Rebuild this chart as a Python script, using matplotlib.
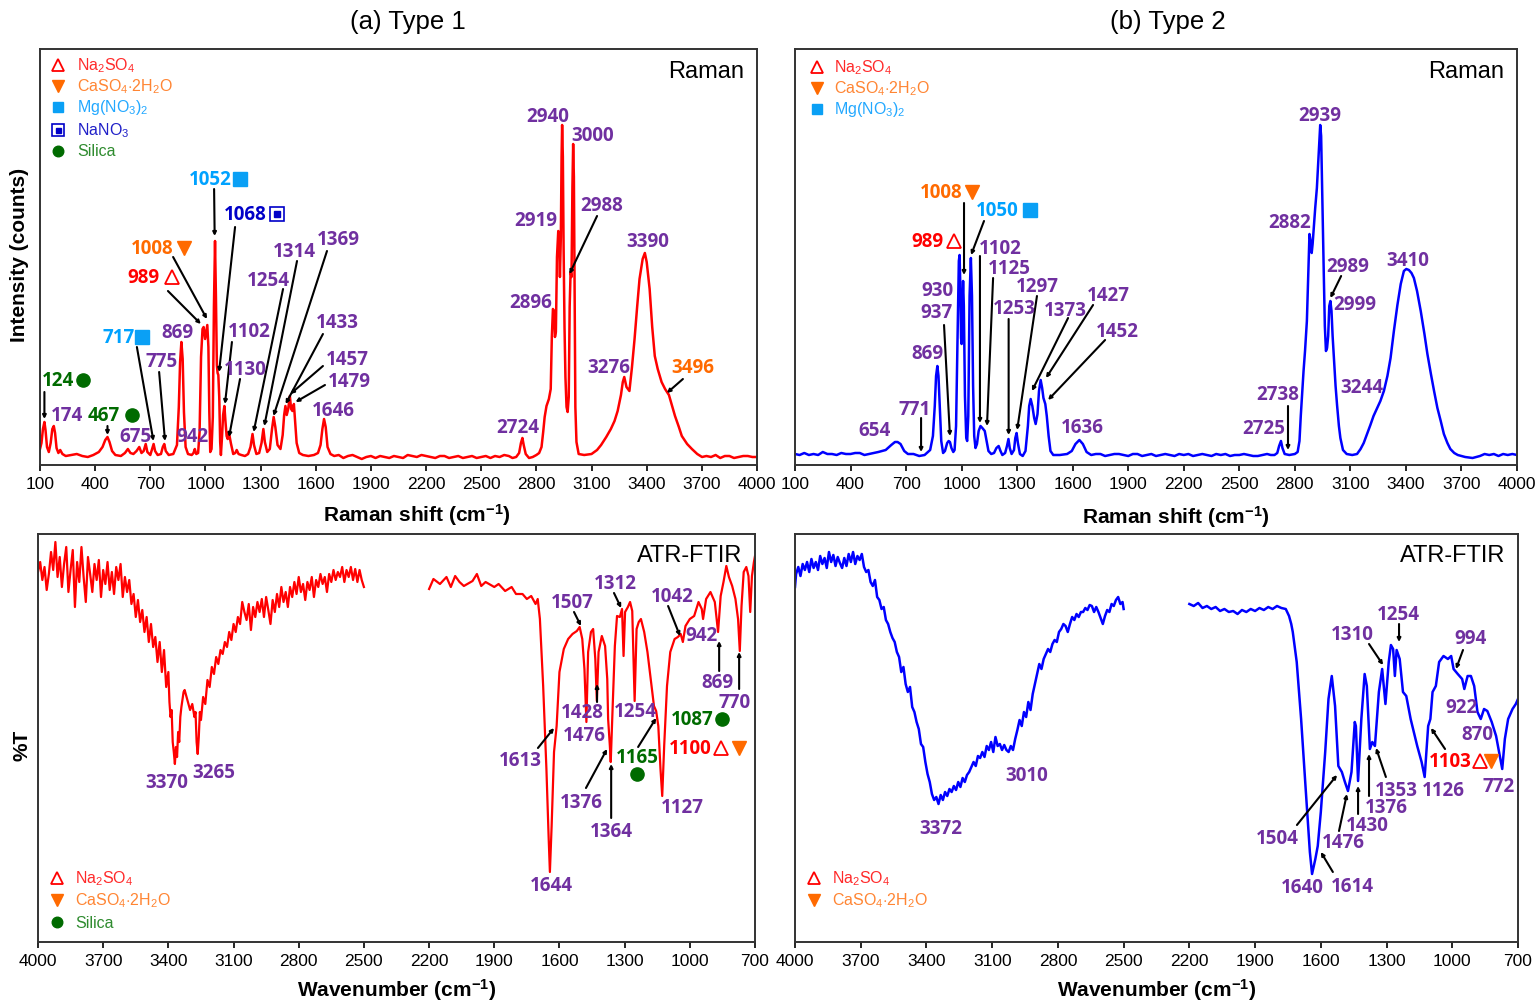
# Raman and ATR-FTIR spectra, type 1 and type 2
import matplotlib.pyplot as plt

plt.rcParams['font.family'] = ['Liberation Sans', 'DejaVu Sans']
plt.rcParams['mathtext.fontset'] = 'custom'
plt.rcParams['mathtext.rm'] = 'Liberation Sans'
plt.rcParams['mathtext.it'] = 'Liberation Sans:italic'
plt.rcParams['mathtext.bf'] = 'Liberation Sans:bold'

RED = '#FF0000'
ORANGE = '#FF6A00'
LBLUE = '#00A2FF'
DBLUE = '#0000C8'
GREEN = '#006B00'
PURPLE = '#7030A0'
BLUE = '#0000FF'

# ---------------- data ----------------
# Raman type 1: (shift cm-1, intensity a.u.)
raman1 = [
    (100, 8), (108, 14), (116, 28), (124, 35), (130, 27), (138, 10), (148, 5), (158, 14),
    (167, 28), (175, 31), (182, 24), (190, 9), (200, 4), (210, 7), (222, 3), (240, 1),
    (270, 2), (300, 3), (330, 1), (360, 0), (390, 2), (420, 5), (440, 10), (455, 17),
    (467, 20), (478, 15), (492, 6), (510, 2), (540, 1), (562, 4), (578, 8), (592, 4),
    (608, 3), (625, 6), (640, 10), (652, 4), (664, 6), (675, 13), (684, 5), (700, 2),
    (710, 8), (718, 13), (726, 6), (740, 2), (758, 3), (768, 10), (776, 13), (784, 6),
    (800, 2), (825, 3), (845, 12), (855, 50), (862, 95), (869, 115), (876, 98), (883, 45),
    (892, 10), (905, 3), (925, 2), (935, 4), (942, 8), (950, 3), (960, 4), (968, 25),
    (976, 100), (984, 128), (990, 130), (998, 118), (1004, 125), (1010, 132), (1016, 110),
    (1021, 45), (1026, 5), (1033, 8), (1040, 40), (1046, 150), (1052, 216), (1057, 160),
    (1062, 92), (1066, 84), (1070, 82), (1075, 60), (1080, 15), (1084, 2), (1090, 20),
    (1096, 42), (1103, 51), (1109, 35), (1115, 21), (1121, 18), (1127, 25), (1132, 20),
    (1138, 14), (1151, 3), (1162, 4), (1170, 7), (1180, 3), (1195, 2), (1215, 1), (1232, 3),
    (1245, 10), (1256, 23), (1264, 12), (1277, 3), (1292, 4), (1305, 14), (1315, 28),
    (1323, 15), (1336, 5), (1350, 8), (1362, 28), (1371, 40), (1380, 30), (1392, 12),
    (1408, 8), (1420, 22), (1428, 42), (1435, 51), (1442, 42), (1450, 48), (1459, 61),
    (1466, 48), (1473, 46), (1481, 53), (1488, 35), (1496, 14), (1510, 4), (1530, 2),
    (1560, 1), (1590, 2), (1612, 4), (1626, 12), (1636, 28), (1645, 38), (1654, 30),
    (1664, 10), (1680, 3), (1700, 1), (1725, 2), (1750, -1), (1775, 1), (1800, 2),
    (1825, 0), (1850, -2), (1875, 0), (1900, 1), (1925, -1), (1950, 1), (1975, 0),
    (2000, -1), (2025, 1), (2050, 0), (2075, -1), (2100, 2), (2125, 1), (2150, 0),
    (2175, 2), (2200, 1), (2225, 0), (2250, -1), (2275, 1), (2300, 1), (2325, -1),
    (2350, 0), (2375, 1), (2400, -1), (2425, 0), (2450, 1), (2475, -1), (2500, 0),
    (2525, 1), (2550, -1), (2575, 1), (2600, 0), (2625, 2), (2650, 1), (2670, -1),
    (2690, 0), (2706, 4), (2716, 14), (2724, 19), (2731, 12), (2742, 3),
    (2760, -1), (2780, 0), (2800, 2), (2815, 4), (2828, 10), (2837, 25), (2845, 40),
    (2855, 51), (2868, 58), (2878, 68), (2884, 120), (2890, 148), (2896, 146), (2901, 120),
    (2906, 125), (2912, 200), (2919, 226), (2924, 215), (2928, 180), (2933, 220), (2937, 300),
    (2940, 332), (2944, 300), (2948, 210), (2953, 130), (2958, 80), (2964, 50), (2970, 45),
    (2976, 60), (2981, 150), (2986, 185), (2991, 180), (2996, 270), (3000, 313), (3004, 280),
    (3008, 170), (3012, 50), (3018, 15), (3030, 3), (3060, 2), (3100, 3), (3130, 7),
    (3152, 12), (3180, 20), (3205, 28), (3225, 36), (3242, 46), (3260, 62), (3270, 75),
    (3278, 80), (3290, 70), (3306, 66), (3320, 90), (3334, 118), (3348, 150), (3361, 178),
    (3378, 198), (3390, 204), (3400, 195), (3416, 168), (3430, 130), (3444, 101), (3460, 88),
    (3481, 75), (3500, 68), (3521, 62), (3540, 50), (3554, 41), (3575, 30), (3591, 21),
    (3620, 13), (3646, 8), (3675, 3), (3701, 0), (3725, 1), (3750, 0), (3775, 2),
    (3800, -1), (3825, 1), (3850, 1), (3875, -1), (3900, 0), (3925, 1), (3950, 1),
    (3975, 0), (4000, 0),
]

# Raman type 2
raman2 = [
    (100, 2), (125, 1), (150, 3), (175, 1), (200, 2), (225, 1), (250, 4), (275, 2),
    (300, 2), (325, 1), (350, 3), (375, 2), (400, 2), (425, 3), (450, 3), (475, 1),
    (500, 2), (525, 3), (550, 4), (590, 6), (620, 11), (640, 14), (654, 14), (670, 12), (690, 5),
    (710, 2), (740, 2), (771, 0), (800, 1), (830, 6), (845, 20), (855, 50), (862, 80),
    (869, 90), (875, 80), (882, 50), (890, 15), (900, 3), (910, 5), (922, 13), (930, 15),
    (937, 14), (945, 8), (955, 4), (962, 6), (970, 30), (978, 120), (985, 195), (989, 201),
    (993, 170), (997, 118), (1000, 112), (1004, 150), (1008, 175), (1012, 150), (1018, 60),
    (1025, 18), (1030, 15), (1036, 40), (1043, 160), (1050, 198), (1056, 160), (1062, 70),
    (1068, 20), (1075, 8), (1083, 12), (1092, 25), (1102, 30), (1112, 28), (1125, 25),
    (1135, 15), (1145, 5), (1160, 2), (1175, 3), (1188, 8), (1200, 10), (1210, 5),
    (1220, 1), (1235, 3), (1245, 10), (1253, 17), (1260, 8), (1270, 2), (1283, 6),
    (1290, 18), (1297, 23), (1304, 13), (1315, 2), (1330, 0), (1345, 5), (1358, 30),
    (1365, 50), (1373, 57), (1382, 50), (1392, 38), (1400, 32), (1410, 42), (1418, 65),
    (1427, 76), (1435, 68), (1442, 58), (1452, 52), (1460, 40), (1470, 20), (1480, 5),
    (1495, 1), (1530, 1), (1570, 2), (1595, 5), (1615, 12), (1636, 16), (1655, 12),
    (1675, 4), (1700, 1), (1725, 2), (1750, 2), (1775, 0), (1800, 1), (1825, 2), (1850, 2),
    (1875, 1), (1900, 0), (1925, 2), (1950, 2), (1975, 0), (2000, 1), (2025, 2), (2050, 0),
    (2075, 1), (2100, 2), (2125, 1), (2150, 0), (2175, 2), (2200, 1), (2225, 2), (2250, 0),
    (2275, 1), (2300, 2), (2325, 1), (2350, 0), (2375, 2), (2400, 1), (2425, 2), (2450, 0),
    (2475, 1), (2500, 1), (2525, 2), (2550, 1), (2575, 0), (2600, 0), (2625, 1), (2650, 2),
    (2670, 1), (2690, 1), (2705, 3), (2715, 10),
    (2725, 15), (2733, 8), (2745, 2), (2770, 1), (2800, 2), (2815, 4), (2825, 15),
    (2832, 40), (2840, 65), (2847, 85), (2855, 105), (2865, 135), (2872, 180), (2879, 222),
    (2885, 215), (2891, 203), (2896, 212), (2901, 225), (2910, 248), (2919, 268), (2928, 300),
    (2937, 331), (2942, 320), (2948, 260), (2952, 225), (2956, 185), (2962, 130), (2968, 105),
    (2974, 108), (2980, 120), (2986, 150), (2992, 155), (2998, 145), (3004, 120), (3010, 101),
    (3020, 70), (3028, 51), (3038, 30), (3046, 18), (3060, 6), (3080, 2), (3110, 1),
    (3136, 2), (3155, 7), (3172, 13), (3190, 22), (3208, 31), (3225, 40), (3245, 48),
    (3262, 55), (3281, 65), (3300, 80), (3317, 98), (3335, 125), (3354, 151), (3372, 172),
    (3389, 185), (3402, 187), (3416, 186), (3430, 183), (3443, 178), (3460, 165), (3480, 145),
    (3500, 122), (3516, 102), (3535, 82), (3552, 65), (3570, 48), (3588, 35), (3605, 22),
    (3624, 13), (3640, 7), (3661, 3), (3680, 1), (3720, -1), (3760, -2), (3800, 0),
    (3825, 2), (3850, 1), (3875, 2), (3900, 0), (3925, 2), (3950, 1), (3975, 2), (4000, 1),
]

# ATR-FTIR type 1: (wavenumber cm-1, %T a.u.), two segments
ftir1_high = [
    (4000, 370), (3990, 380), (3980, 362), (3970, 375), (3960, 352), (3950, 368), (3940, 390),
    (3930, 372), (3920, 400), (3910, 365), (3900, 385), (3890, 355), (3880, 378), (3870, 395),
    (3860, 350), (3850, 372), (3840, 392), (3830, 335), (3820, 380), (3810, 360), (3800, 395),
    (3790, 365), (3780, 340), (3770, 385), (3760, 368), (3750, 350), (3740, 378), (3730, 362),
    (3720, 382), (3710, 345), (3700, 372), (3690, 358), (3680, 380), (3670, 352), (3660, 370),
    (3650, 348), (3640, 375), (3630, 362), (3620, 378), (3610, 345), (3600, 365), (3590, 350),
    (3580, 362), (3570, 338), (3560, 348), (3550, 325), (3540, 342), (3530, 320), (3520, 332),
    (3510, 310), (3500, 325), (3490, 300), (3480, 318), (3470, 295), (3460, 305), (3450, 280),
    (3440, 300), (3430, 270), (3420, 292), (3410, 255), (3400, 270), (3395, 240), (3390, 225),
    (3385, 232), (3380, 200), (3375, 190), (3370, 178), (3365, 195), (3360, 185), (3355, 210),
    (3350, 200), (3345, 225), (3340, 235), (3330, 250), (3325, 252), (3320, 248), (3310, 240),
    (3300, 232), (3290, 238), (3280, 225), (3275, 230), (3270, 200), (3265, 188), (3260, 205),
    (3255, 230), (3250, 222), (3240, 245), (3230, 238), (3220, 262), (3210, 255), (3200, 275),
    (3190, 268), (3180, 285), (3170, 278), (3160, 292), (3150, 288), (3140, 300), (3130, 295),
    (3120, 310), (3110, 302), (3100, 318), (3090, 310), (3080, 325), (3070, 318), (3060, 340),
    (3050, 330), (3040, 322), (3030, 338), (3020, 312), (3010, 335), (3000, 325), (2990, 340),
    (2980, 330), (2970, 343), (2960, 325), (2950, 345), (2940, 332), (2930, 318), (2920, 342),
    (2910, 330), (2900, 348), (2890, 335), (2880, 355), (2870, 340), (2860, 350), (2850, 335),
    (2840, 355), (2830, 345), (2820, 360), (2810, 348), (2800, 365), (2790, 350), (2780, 358),
    (2770, 342), (2760, 360), (2750, 352), (2740, 365), (2730, 345), (2720, 362), (2710, 355),
    (2700, 368), (2690, 358), (2680, 365), (2670, 350), (2660, 368), (2650, 360), (2640, 372),
    (2630, 362), (2620, 370), (2610, 365), (2600, 375), (2590, 360), (2580, 372), (2570, 365),
    (2560, 375), (2550, 362), (2540, 373), (2530, 360), (2520, 372), (2510, 362), (2500, 355),
]
ftir1_low = [
    (2200, 353), (2180, 363), (2150, 358), (2120, 365), (2100, 355), (2080, 366), (2060, 360),
    (2040, 356), (2000, 361), (1980, 368), (1960, 356), (1940, 360), (1900, 355), (1880, 358),
    (1850, 351), (1820, 355), (1800, 348), (1770, 348), (1750, 343), (1730, 346), (1710, 338),
    (1700, 343), (1690, 323), (1675, 256), (1660, 173), (1650, 106), (1644, 70), (1636, 116),
    (1625, 190), (1613, 216), (1600, 270), (1580, 293), (1560, 303), (1540, 308), (1520, 311),
    (1507, 315), (1495, 303), (1485, 273), (1476, 220), (1468, 290), (1455, 310), (1445, 313),
    (1435, 283), (1428, 241), (1420, 290), (1405, 306), (1390, 296), (1380, 263), (1376, 223),
    (1368, 196), (1364, 180), (1355, 236), (1345, 296), (1335, 326), (1322, 325), (1312, 333),
    (1305, 286), (1298, 330), (1285, 335), (1275, 340), (1265, 331), (1254, 241), (1245, 313),
    (1235, 320), (1225, 323), (1210, 310), (1195, 290), (1180, 263), (1165, 236), (1155, 231),
    (1145, 216), (1135, 173), (1127, 146), (1118, 196), (1105, 256), (1090, 290), (1070, 303),
    (1055, 305), (1042, 308), (1032, 300), (1020, 316), (1000, 323), (980, 326), (960, 340),
    (945, 333), (939, 323), (925, 343), (905, 350), (885, 340), (870, 310), (858, 346),
    (845, 360), (832, 376), (820, 365), (805, 356), (790, 343), (778, 323), (770, 291),
    (762, 336), (752, 370), (740, 375), (730, 366), (722, 330), (714, 366), (705, 380),
    (700, 386),
]

# ATR-FTIR type 2
ftir2_high = [
    (4000, 355), (3995, 368), (3985, 375), (3975, 366), (3965, 378), (3955, 372), (3945, 380),
    (3935, 370), (3925, 383), (3915, 374), (3905, 380), (3895, 372), (3885, 386), (3875, 378),
    (3865, 384), (3855, 374), (3845, 390), (3835, 380), (3825, 387), (3815, 376), (3805, 385),
    (3795, 379), (3785, 374), (3775, 384), (3765, 376), (3755, 388), (3745, 380), (3735, 390),
    (3725, 378), (3715, 386), (3705, 382), (3695, 388), (3685, 375), (3675, 370), (3665, 372),
    (3655, 360), (3645, 356), (3635, 362), (3625, 345), (3615, 342), (3605, 333), (3595, 335),
    (3585, 322), (3575, 318), (3565, 310), (3555, 304), (3545, 300), (3535, 290), (3525, 285),
    (3515, 270), (3505, 275), (3495, 258), (3485, 250), (3475, 255), (3465, 235), (3455, 230),
    (3445, 220), (3435, 213), (3425, 198), (3415, 195), (3405, 180), (3395, 168), (3385, 160),
    (3375, 148), (3365, 142), (3355, 145), (3345, 138), (3335, 147), (3325, 142), (3315, 150),
    (3305, 146), (3295, 153), (3285, 150), (3275, 156), (3265, 152), (3255, 160), (3245, 155),
    (3235, 164), (3225, 160), (3215, 167), (3205, 170), (3195, 175), (3185, 180), (3175, 176),
    (3165, 186), (3155, 184), (3145, 190), (3135, 185), (3125, 196), (3115, 192), (3105, 200),
    (3095, 190), (3085, 205), (3075, 196), (3065, 198), (3055, 192), (3045, 197), (3035, 192),
    (3025, 190), (3015, 196), (3005, 192), (2995, 203), (2985, 212), (2975, 222), (2965, 216),
    (2955, 230), (2945, 225), (2935, 240), (2925, 232), (2915, 248), (2905, 258), (2895, 268),
    (2885, 278), (2875, 273), (2865, 283), (2855, 288), (2845, 293), (2835, 290), (2825, 298),
    (2815, 302), (2805, 300), (2795, 310), (2785, 313), (2775, 318), (2765, 316), (2755, 310),
    (2745, 318), (2735, 325), (2725, 322), (2715, 328), (2705, 325), (2695, 330), (2685, 330),
    (2675, 334), (2665, 332), (2655, 337), (2645, 336), (2635, 330), (2625, 335), (2615, 330),
    (2605, 324), (2595, 318), (2585, 326), (2575, 332), (2565, 330), (2555, 338), (2545, 336),
    (2535, 342), (2525, 345), (2515, 338), (2505, 340), (2500, 333),
]
ftir2_low = [
    (2200, 338), (2180, 336), (2160, 339), (2140, 334), (2120, 336), (2100, 333), (2080, 335),
    (2060, 331), (2040, 333), (2020, 330), (2000, 331), (1980, 328), (1960, 332), (1940, 330),
    (1920, 333), (1900, 331), (1880, 334), (1860, 332), (1840, 335), (1820, 333), (1800, 336),
    (1780, 334), (1760, 333), (1745, 326), (1735, 318), (1728, 310), (1710, 280), (1690, 223),
    (1670, 156), (1650, 90), (1640, 68), (1625, 83), (1614, 96), (1600, 130), (1580, 190),
    (1565, 243), (1550, 266), (1535, 236), (1520, 176), (1504, 170), (1490, 160), (1476, 151),
    (1460, 170), (1445, 220), (1440, 216), (1430, 161), (1415, 223), (1400, 268), (1390, 256),
    (1376, 193), (1365, 200), (1353, 196), (1335, 250), (1320, 273), (1305, 238), (1290, 280),
    (1280, 297), (1270, 293), (1262, 266), (1254, 292), (1240, 283), (1225, 250), (1210, 246),
    (1190, 223), (1160, 196), (1140, 180), (1126, 165), (1110, 216), (1100, 223), (1090, 250),
    (1075, 256), (1060, 280), (1040, 286), (1020, 283), (1005, 286), (994, 273), (975, 268),
    (955, 263), (945, 253), (930, 266), (915, 266), (900, 256), (885, 230), (870, 223),
    (855, 233), (840, 231), (820, 220), (800, 206), (772, 173), (760, 203), (745, 223),
    (725, 233), (710, 238), (700, 243),
]

raman_ticks = list(range(100, 4001, 300))
ftir_ticks = list(range(4000, 699, -300))

# ---------------- peak labels ----------------
# (text, colour, text x, text y, pointer line or None)
raman1_labels = [
    ('124', GREEN, 198, 77, (124, 65, 124, 38)),
    ('174', PURPLE, 247, 42, None),
    ('467', GREEN, 448, 42, (467, 31, 467, 22)),
    ('675', PURPLE, 617, 21, None),
    ('942', PURPLE, 932, 21, None),
    ('717', LBLUE, 526, 120, (627, 110, 717, 16)),
    ('775', PURPLE, 763, 96, (748, 85, 780, 16)),
    ('869', PURPLE, 846, 125, None),
    ('989', RED, 662, 180, (796, 166, 975, 133)),
    ('1008', ORANGE, 709, 209, (824, 200, 1008, 138)),
    ('1052', LBLUE, 1025, 278, (1047, 268, 1050, 221)),
    ('1068', DBLUE, 1215, 243, (1161, 230, 1074, 85)),
    ('1102', PURPLE, 1237, 126, (1144, 115, 1106, 53)),
    ('1130', PURPLE, 1215, 88, (1188, 78, 1128, 20)),
    ('1254', PURPLE, 1340, 177, (1422, 168, 1262, 25)),
    ('1314', PURPLE, 1482, 206, (1498, 196, 1320, 31)),
    ('1369', PURPLE, 1721, 218, (1661, 206, 1370, 41)),
    ('1433', PURPLE, 1716, 135, (1639, 123, 1436, 53)),
    ('1457', PURPLE, 1770, 98, (1639, 91, 1462, 63)),
    ('1479', PURPLE, 1781, 76, (1650, 72, 1490, 55)),
    ('1646', PURPLE, 1694, 47, None),
    ('2940', PURPLE, 2863, 341, None),
    ('3000', PURPLE, 3108, 322, None),
    ('2919', PURPLE, 2798, 237, None),
    ('2988', PURPLE, 3157, 252, (3130, 241, 2980, 183)),
    ('2896', PURPLE, 2771, 155, None),
    ('3390', PURPLE, 3407, 216, None),
    ('3276', PURPLE, 3195, 90, None),
    ('3496', ORANGE, 3652, 90, (3597, 78, 3510, 64)),
    ('2724', PURPLE, 2700, 30, None),
]
raman1_marks = [('silica', 334, 77), ('silica', 600, 42), ('mg', 655, 120), ('na', 818, 180),
                ('ca', 883, 209), ('mg', 1188, 278), ('nano3', 1389, 243)]

raman2_labels = [
    ('1008', ORANGE, 889, 264, (1013, 253, 1013, 181)),
    ('1050', LBLUE, 1191, 246, (1121, 235, 1051, 201)),
    ('989', RED, 813, 215, None),
    ('1102', PURPLE, 1207, 208, (1099, 200, 1099, 33)),
    ('1125', PURPLE, 1256, 188, (1170, 178, 1137, 30)),
    ('930', PURPLE, 867, 166, None),
    ('937', PURPLE, 862, 144, (905, 131, 937, 20)),
    ('869', PURPLE, 813, 103, None),
    ('1297', PURPLE, 1407, 170, (1407, 160, 1300, 26)),
    ('1253', PURPLE, 1283, 148, (1254, 137, 1254, 21)),
    ('1373', PURPLE, 1559, 146, (1575, 138, 1380, 65)),
    ('1427', PURPLE, 1791, 161, (1710, 151, 1456, 78)),
    ('1452', PURPLE, 1840, 125, (1775, 116, 1467, 56)),
    ('654', PURPLE, 527, 26, None),
    ('771', PURPLE, 748, 47, (781, 38, 781, 4)),
    ('1636', PURPLE, 1650, 29, None),
    ('2939', PURPLE, 2936, 341, None),
    ('2882', PURPLE, 2774, 234, None),
    ('2989', PURPLE, 3087, 190, (3050, 180, 2992, 158)),
    ('2999', PURPLE, 3125, 152, None),
    ('3410', PURPLE, 3411, 196, None),
    ('3244', PURPLE, 3163, 69, None),
    ('2738', PURPLE, 2709, 62, (2763, 50, 2763, 6)),
    ('2725', PURPLE, 2634, 28, None),
]
raman2_marks = [('ca', 1056, 264), ('mg', 1369, 246), ('na', 959, 215)]

ftir1_labels = [
    ('3370', PURPLE, 3406, 160, None),
    ('3265', PURPLE, 3190, 170, None),
    ('1507', PURPLE, 1542, 340, (1533, 330, 1501, 316)),
    ('1312', PURPLE, 1344, 359, (1349, 349, 1316, 334)),
    ('1042', PURPLE, 1082, 346, (1100, 336, 1045, 306)),
    ('942', PURPLE, 944, 307, None),
    ('869', PURPLE, 875, 260, (865, 271, 865, 301)),
    ('770', PURPLE, 792, 240, (773, 253, 773, 290)),
    ('1428', PURPLE, 1496, 230, (1427, 240, 1427, 258)),
    ('1254', PURPLE, 1252, 231, None),
    ('1476', PURPLE, 1487, 207, None),
    ('1613', PURPLE, 1781, 182, (1699, 194, 1625, 214)),
    ('1087', GREEN, 990, 223, None),
    ('1165', GREEN, 1243, 185, (1238, 195, 1155, 224)),
    ('1100', RED, 999, 194, None),
    ('1376', PURPLE, 1501, 140, (1478, 154, 1381, 193)),
    ('1364', PURPLE, 1362, 111, (1362, 124, 1362, 178)),
    ('1127', PURPLE, 1036, 135, None),
    ('1644', PURPLE, 1639, 57, None),
]
ftir1_marks = [('silica', 852, 223), ('silica', 1243, 168), ('na', 856, 194), ('ca', 773, 194)]

ftir2_labels = [
    ('3372', PURPLE, 3334, 114, None),
    ('3010', PURPLE, 2941, 167, None),
    ('1254', PURPLE, 1248, 328, (1243, 318, 1243, 300)),
    ('1310', PURPLE, 1458, 308, (1380, 298, 1316, 277)),
    ('994', PURPLE, 919, 304, (951, 292, 983, 273)),
    ('922', PURPLE, 960, 235, None),
    ('870', PURPLE, 887, 208, None),
    ('1103', RED, 1011, 181, (1033, 193, 1097, 214)),
    ('772', PURPLE, 787, 156, None),
    ('1126', PURPLE, 1043, 152, None),
    ('1353', PURPLE, 1253, 152, (1303, 165, 1348, 194)),
    ('1376', PURPLE, 1303, 135, (1380, 146, 1380, 188)),
    ('1430', PURPLE, 1389, 117, (1430, 128, 1430, 156)),
    ('1476', PURPLE, 1499, 100, (1517, 111, 1481, 148)),
    ('1504', PURPLE, 1800, 104, (1709, 117, 1526, 167)),
    ('1640', PURPLE, 1686, 55, None),
    ('1614', PURPLE, 1458, 56, (1545, 70, 1600, 90)),
]
ftir2_marks = [('na', 874, 181), ('ca', 823, 181)]

LEGEND_ITEMS = {
    'na': (r'Na$_2$SO$_4$', '#FF2A2A'),
    'ca': (r'CaSO$_4$$\cdot$2H$_2$O', '#FF8533'),
    'mg': (r'Mg(NO$_3$)$_2$', '#22A8FF'),
    'nano3': (r'NaNO$_3$', '#2020C8'),
    'silica': ('Silica', '#2E8B2E'),
}


def draw_marker(ax, kind, x, y, size=10, transform=None):
    tr = transform if transform is not None else ax.transData
    kw = dict(transform=tr, clip_on=False, zorder=6, linestyle='none')
    if kind == 'na':
        ax.plot(x, y, marker='^', ms=size, mfc='white', mec=RED, mew=1.3, **kw)
    elif kind == 'ca':
        ax.plot(x, y, marker='v', ms=size, color=ORANGE, mec=ORANGE, **kw)
    elif kind == 'mg':
        ax.plot(x, y, marker='s', ms=size * 0.95, color='#0AA0F5', mec='#0AA0F5', **kw)
    elif kind == 'nano3':
        ax.plot(x, y, marker='s', ms=size, mfc='white', mec=DBLUE, mew=1.2, **kw)
        ax.plot(x, y, marker='s', ms=size * 0.45, color=DBLUE, **kw)
    elif kind == 'silica':
        ax.plot(x, y, marker='o', ms=size * 0.95, color=GREEN, mec=GREEN, **kw)


def add_labels(ax, labels, marks):
    for text, color, tx, ty, line in labels:
        ax.text(tx, ty, text, color=color, fontsize=13.5, fontweight='bold',
                family=['Open Sans', 'DejaVu Sans'], ha='center', va='center', zorder=5)
        if line is not None:
            ax.annotate('', xy=(line[2], line[3]), xytext=(line[0], line[1]),
                        arrowprops=dict(arrowstyle='-|>', color='black', lw=1.5,
                                        mutation_scale=5, shrinkA=0, shrinkB=0), zorder=4)
    for kind, x, y in marks:
        draw_marker(ax, kind, x, y)


def add_legend(ax, kinds, xm, xt, ys):
    for kind, y in zip(kinds, ys):
        draw_marker(ax, kind, xm, y, size=8, transform=ax.transAxes)
        text, color = LEGEND_ITEMS[kind]
        ax.text(xt, y, text, color=color, fontsize=11.5, transform=ax.transAxes,
                ha='left', va='center')


def style(ax, ticks, xlim, ylim, tag):
    ax.set_xlim(*xlim)
    ax.set_ylim(*ylim)
    ax.set_xticks(ticks)
    ax.set_yticks([])
    ax.tick_params(axis='x', direction='out', length=4, width=1.2, labelsize=12.5, pad=4)
    for s in ax.spines.values():
        s.set_linewidth(1.4)
        s.set_color('#333333')
    ax.text(0.982, 0.948, tag, transform=ax.transAxes, ha='right', va='center', fontsize=17)


W, H = 1537, 1003
fig = plt.figure(figsize=(W / 100, H / 100), dpi=100)


def axes_px(left, top, right, bottom):
    return fig.add_axes([left / W, 1 - bottom / H, (right - left) / W, (bottom - top) / H])


ax1 = axes_px(40, 50, 757, 466)
ax2 = axes_px(795, 50, 1517, 466)
ax3 = axes_px(38, 535, 755, 943)
ax4 = axes_px(795, 535, 1518, 943)

x, y = zip(*raman1)
ax1.plot(x, y, color=RED, lw=1.8)
x, y = zip(*raman2)
ax2.plot(x, y, color=BLUE, lw=1.8)
for seg in (ftir1_high, ftir1_low):
    x, y = zip(*seg)
    ax3.plot(x, y, color=RED, lw=1.6)
for seg in (ftir2_high, ftir2_low):
    x, y = zip(*seg)
    ax4.plot(x, y, color=BLUE, lw=1.8)

style(ax1, raman_ticks, (100, 4000), (-8, 408), 'Raman')
style(ax2, raman_ticks, (100, 4000), (-9, 407), 'Raman')
style(ax3, ftir_ticks, (4000, 700), (0, 408), 'ATR-FTIR')
style(ax4, ftir_ticks, (4000, 700), (0, 408), 'ATR-FTIR')

add_labels(ax1, raman1_labels, raman1_marks)
add_labels(ax2, raman2_labels, raman2_marks)
add_labels(ax3, ftir1_labels, ftir1_marks)
add_labels(ax4, ftir2_labels, ftir2_marks)

add_legend(ax1, ['na', 'ca', 'mg', 'nano3', 'silica'], 0.025, 0.052,
           [0.962, 0.911, 0.861, 0.806, 0.755])
add_legend(ax2, ['na', 'ca', 'mg'], 0.030, 0.054, [0.957, 0.906, 0.856])
add_legend(ax3, ['na', 'ca', 'silica'], 0.027, 0.052, [0.157, 0.103, 0.049])
add_legend(ax4, ['na', 'ca'], 0.026, 0.051, [0.157, 0.103])

# titles and axis labels
fig.text(408 / W, 1 - 22 / H, '(a) Type 1', ha='center', va='center', fontsize=18.5)
fig.text(1168 / W, 1 - 22 / H, '(b) Type 2', ha='center', va='center', fontsize=18.5)
fig.text(417 / W, 1 - 515 / H, r'Raman shift (cm$^{\mathbf{-1}}$)', ha='center', va='center',
         fontsize=15, fontweight='bold')
fig.text(1176 / W, 1 - 517 / H, r'Raman shift (cm$^{\mathbf{-1}}$)', ha='center', va='center',
         fontsize=15, fontweight='bold')
fig.text(397 / W, 1 - 990 / H, r'Wavenumber (cm$^{\mathbf{-1}}$)', ha='center', va='center',
         fontsize=15, fontweight='bold')
fig.text(1157 / W, 1 - 990 / H, r'Wavenumber (cm$^{\mathbf{-1}}$)', ha='center', va='center',
         fontsize=15, fontweight='bold')
fig.text(20 / W, 1 - 255 / H, 'Intensity (counts)', rotation=90, ha='center', va='center',
         fontsize=15, fontweight='bold')
fig.text(22 / W, 1 - 745 / H, '%T', rotation=90, ha='center', va='center',
         fontsize=15, fontweight='bold')

fig.savefig('out.png', dpi=100, facecolor='white')
